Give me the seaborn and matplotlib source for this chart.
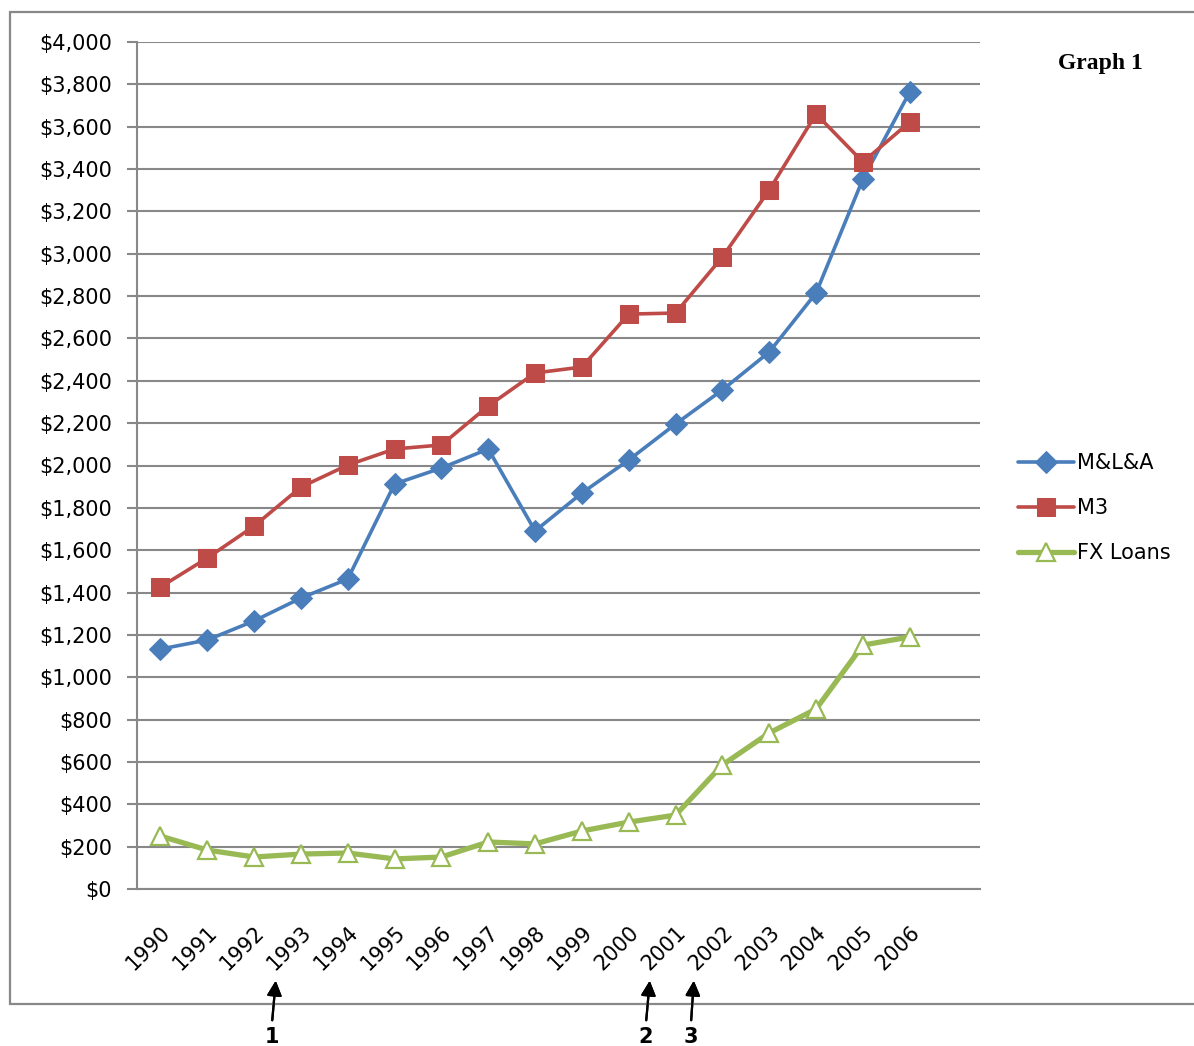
import seaborn as sns
import numpy as np
import pandas as pd
import matplotlib
matplotlib.use("Agg")
import matplotlib.pyplot as plt
from matplotlib.lines import Line2D
from matplotlib.ticker import FuncFormatter, FixedLocator

years = list(range(1990, 2007))
mla = [1133, 1176, 1266, 1374, 1464, 1913, 1988, 2078, 1691, 1870,
       2026, 2196, 2357, 2536, 2815, 3353, 3764]
m3 = [1426, 1563, 1714, 1898, 2002, 2078, 2097, 2281, 2437, 2465,
      2715, 2720, 2985, 3301, 3660, 3433, 3622]
fx_loans = [250, 184, 151, 165, 170, 142, 151, 222, 213, 274,
            316, 349, 586, 737, 850, 1152, 1190]
series_names = ["M&L&A", "M3", "FX Loans"]
event_labels = ["1", "2", "3"]

df = pd.DataFrame({"year": years, "M&L&A": mla, "M3": m3, "FX Loans": fx_loans})

sns.set_style("white")
plt.rcParams["font.family"] = ["DejaVu Sans"]
plt.rcParams["text.color"] = "black"
plt.rcParams["xtick.color"] = "black"
plt.rcParams["ytick.color"] = "black"

grid_c = "#888888"
blue, red, green = "#4A7EBB", "#BE4B48", "#98B954"

fig = plt.figure(figsize=(11.94, 10.46), dpi=100)
ax = fig.add_axes([137 / 1194, 1 - 889 / 1046, 843 / 1194, 847 / 1046])

sns.lineplot(data=df, x="year", y="M&L&A", ax=ax, color=blue, lw=2.6,
             marker="D", markersize=11, markeredgecolor=blue, label=series_names[0])
sns.lineplot(data=df, x="year", y="M3", ax=ax, color=red, lw=2.6,
             marker="s", markersize=13, markeredgecolor=red, label=series_names[1])
sns.lineplot(data=df, x="year", y="FX Loans", ax=ax, color=green, lw=3.8,
             marker="^", markersize=13, markerfacecolor="white",
             markeredgecolor=green, markeredgewidth=1.6, label=series_names[2])

ax.set_xlim(1989.5, 2007.5)
ax.set_ylim(0, 4000)
ax.set_yticks(np.arange(0, 4001, 200))
ax.yaxis.set_major_formatter(FuncFormatter(lambda v, p: "${:,.0f}".format(v)))
ax.yaxis.grid(True, color=grid_c, lw=1.5)
ax.set_axisbelow(True)

# category boundaries carry the tick marks, labels sit at centres
ax.xaxis.set_major_locator(FixedLocator(years))
ax.xaxis.set_minor_locator(FixedLocator(np.arange(1989.5, 2008, 1)))
ax.set_xticklabels([str(y) for y in years], rotation=45, ha="right",
                   rotation_mode="anchor", fontsize=15)
ax.tick_params(axis="x", which="major", length=0, pad=24)
ax.tick_params(axis="x", which="minor", length=7, width=1.5, color=grid_c)
ax.tick_params(axis="y", length=7, width=1.5, color=grid_c, labelsize=15,
               labelcolor="black", left=True, pad=11)
ax.tick_params(axis="x", labelcolor="black")
ax.set_xlabel("")
ax.set_ylabel("")

for s in ["top", "right"]:
    ax.spines[s].set_visible(False)
for s in ["left", "bottom"]:
    ax.spines[s].set_color(grid_c)
    ax.spines[s].set_linewidth(1.5)

leg = ax.legend(loc="center left", bbox_to_anchor=(1018 / 1194, 1 - 508 / 1046),
                bbox_transform=fig.transFigure, frameon=False, fontsize=15,
                handlelength=2.7, handletextpad=0.15, labelspacing=1.2,
                borderpad=0, borderaxespad=0)
for t in leg.get_texts():
    t.set_color("black")

fig.text(1100 / 1194, 1 - 64 / 1046, "Graph 1", ha="center", va="center",
         fontsize=17, fontweight="bold", family="Liberation Serif", color="black")

# outer chart border
for xs, ys in [([10, 10], [12, 1004]), ([10, 1194], [12, 12]), ([10, 1194], [1004, 1004])]:
    fig.add_artist(Line2D([x / 1194 for x in xs], [1 - y / 1046 for y in ys],
                          transform=fig.transFigure, color=grid_c, lw=1.6))

# event arrows below the axis
arrow_x = [(272, 276), (646, 650), (691, 694)]
for lab, (x0, x1) in zip(event_labels, arrow_x):
    fig.add_artist(plt.annotate("", xy=(x1 / 1194, 1 - 978 / 1046),
                                xytext=(x0 / 1194, 1 - 1023 / 1046),
                                xycoords="figure fraction",
                                arrowprops=dict(arrowstyle="-|>", color="black",
                                                lw=1.6, mutation_scale=22)))
    fig.text(x0 / 1194, 1 - 1037 / 1046, lab, ha="center", va="center",
             fontsize=15, fontweight="bold", color="black")

fig.savefig("out.png", dpi=100)
